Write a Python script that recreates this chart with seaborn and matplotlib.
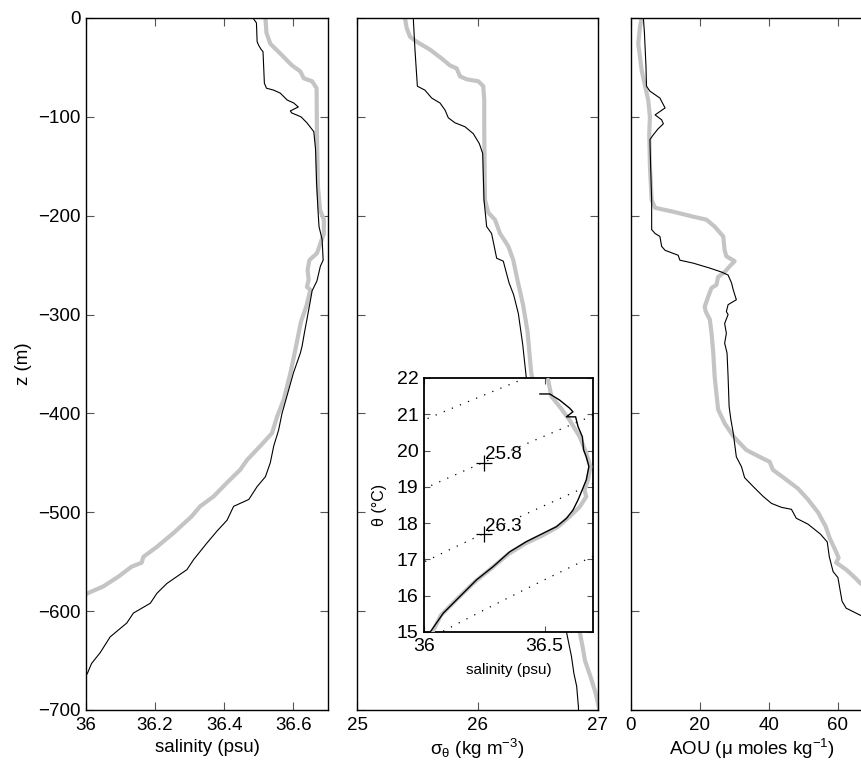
import numpy as np
import matplotlib
matplotlib.use("Agg")
import matplotlib.pyplot as plt
import seaborn as sns

# ---------------- data ----------------
# Panel 1: salinity profiles (psu) vs depth z (m)
salt_black_z = [0, -5, -24, -28, -32, -34, -66, -71, -73, -76, -83, -86, -90, -94, -96,
                -100, -106, -115, -133, -167, -194, -211, -224, -245, -251, -266, -276,
                -286, -305, -318, -332, -339, -359, -379, -400, -417, -433, -450, -464,
                -474, -487, -494, -508, -519, -531, -548, -558, -572, -582, -592, -602,
                -612, -626, -642, -653, -663, -670]
salt_black = [36.483, 36.493, 36.495, 36.500, 36.507, 36.512, 36.516, 36.522, 36.543,
              36.562, 36.582, 36.601, 36.614, 36.591, 36.595, 36.622, 36.639, 36.659,
              36.664, 36.667, 36.671, 36.674, 36.683, 36.686, 36.678, 36.668, 36.654,
              36.649, 36.639, 36.632, 36.625, 36.620, 36.600, 36.584, 36.567, 36.557,
              36.543, 36.533, 36.519, 36.495, 36.471, 36.427, 36.408, 36.379, 36.350,
              36.311, 36.292, 36.234, 36.205, 36.186, 36.137, 36.118, 36.070, 36.041,
              36.016, 36.004, 35.990]
salt_gray_z = [0, -15, -26, -36, -48, -54, -61, -64, -71, -117, -171, -194, -204, -218,
               -228, -238, -245, -255, -265, -272, -275, -292, -307, -333, -358, -386,
               -403, -420, -433, -447, -457, -470, -484, -494, -504, -521, -535, -545,
               -551, -555, -565, -575, -582, -586]
salt_gray = [36.519, 36.522, 36.533, 36.562, 36.596, 36.620, 36.630, 36.654, 36.667,
             36.668, 36.671, 36.677, 36.688, 36.688, 36.678, 36.668, 36.646, 36.641,
             36.644, 36.639, 36.649, 36.637, 36.622, 36.607, 36.592, 36.572, 36.553,
             36.538, 36.504, 36.466, 36.446, 36.408, 36.369, 36.330, 36.306, 36.253,
             36.205, 36.166, 36.161, 36.132, 36.094, 36.050, 36.004, 35.990]

# Panel 2: potential density sigma_theta (kg m-3) vs depth
sig_black_z = [0, -32, -69, -73, -81, -86, -93, -101, -106, -110, -117, -127, -137, -184,
               -211, -218, -243, -246, -268, -280, -299, -330, -364, -420, -480, -540,
               -590, -622, -646, -663, -676, -696, -705]
sig_black = [25.467, 25.481, 25.501, 25.564, 25.620, 25.689, 25.730, 25.758, 25.813,
             25.896, 25.965, 26.015, 26.043, 26.054, 26.076, 26.117, 26.159, 26.214,
             26.262, 26.300, 26.339, 26.375, 26.405, 26.46, 26.54, 26.62, 26.69,
             26.740, 26.780, 26.800, 26.823, 26.837, 26.840]
sig_gray_z = [0, -10, -19, -24, -32, -41, -48, -51, -59, -62, -64, -69, -83, -117, -184,
              -197, -204, -218, -231, -245, -267, -290, -317, -358, -420, -480, -540,
              -590, -622, -636, -650, -667, -682, -695, -705]
sig_gray = [25.398, 25.412, 25.440, 25.495, 25.606, 25.703, 25.772, 25.827, 25.855,
            25.910, 26.007, 26.048, 26.056, 26.056, 26.062, 26.090, 26.145, 26.187,
            26.256, 26.297, 26.335, 26.378, 26.415, 26.445, 26.53, 26.63, 26.73,
            26.81, 26.850, 26.872, 26.892, 26.940, 26.978, 27.003, 27.020]

# Panel 3: AOU (umol/kg) vs depth
aou_black_z = [0, -15, -49, -69, -74, -81, -91, -98, -103, -107, -112, -118, -123, -150,
               -184, -214, -218, -221, -231, -235, -240, -245, -248, -253, -257, -260,
               -268, -275, -285, -290, -297, -300, -309, -319, -329, -339, -363, -393,
               -406, -420, -444, -454, -465, -474, -484, -491, -495, -497, -506, -512,
               -522, -530, -545, -560, -566, -578, -590, -597, -604, -610]
aou_black = [3.6, 3.9, 4.35, 4.5, 5.5, 8.4, 9.9, 7.0, 8.9, 9.4, 7.9, 6.5, 5.5, 5.7, 6.0,
             6.0, 7.0, 8.4, 8.9, 9.9, 13.7, 14.2, 18.1, 22.9, 26.3, 28.2, 29.2, 29.7,
             30.6, 28.2, 27.7, 28.2, 27.2, 27.7, 27.2, 27.9, 28.2, 28.5, 29.0, 29.7,
             30.6, 32.1, 33.0, 35.5, 38.4, 40.8, 43.7, 46.6, 48.0, 51.4, 55.0, 57.0,
             57.6, 58.7, 60.1, 60.7, 61.3, 62.5, 66.5, 71.0]
aou_gray_z = [0, -9, -26, -39, -53, -69, -83, -100, -117, -150, -184, -192, -196, -201,
              -204, -211, -221, -235, -241, -246, -251, -257, -262, -270, -273, -282,
              -292, -297, -305, -319, -339, -363, -396, -410, -423, -437, -444, -449,
              -457, -467, -476, -487, -500, -514, -526, -538, -546, -551, -558, -566,
              -572, -580]
aou_gray = [3.1, 2.6, 2.1, 2.6, 3.1, 4.1, 5.0, 5.5, 5.3, 5.5, 6.0, 7.0, 12.3, 18.1, 21.9,
            24.3, 26.8, 27.2, 27.7, 30.1, 28.7, 27.2, 25.3, 24.8, 23.4, 22.4, 21.4, 21.7,
            22.9, 23.4, 23.9, 24.3, 25.3, 27.2, 29.7, 33.5, 37.4, 40.3, 41.2, 45.1, 48.5,
            51.4, 54.3, 56.5, 57.7, 59.3, 60.3, 59.6, 62.5, 65.0, 66.7, 71.0]

# Inset: theta-S diagram
ts_black_S = [36.479, 36.521, 36.562, 36.603, 36.617, 36.590, 36.628, 36.638, 36.656,
              36.661, 36.672, 36.683, 36.672, 36.658, 36.638, 36.617, 36.590, 36.548,
              36.493, 36.424, 36.355, 36.286, 36.218, 36.149, 36.080, 36.032, 36.020]
ts_black_T = [21.56, 21.56, 21.39, 21.17, 21.07, 20.93, 20.93, 20.66, 20.38, 20.02, 19.83,
              19.56, 19.19, 18.96, 18.64, 18.36, 18.13, 17.90, 17.72, 17.49, 17.21, 16.80,
              16.44, 15.98, 15.52, 15.06, 14.95]
ts_gray_S = [36.514, 36.528, 36.562, 36.603, 36.645, 36.672, 36.689, 36.679, 36.665,
             36.672, 36.645, 36.603, 36.555, 36.493, 36.420, 36.350, 36.280, 36.210,
             36.140, 36.070, 36.035, 36.020]
ts_gray_T = [21.95, 21.49, 21.21, 20.84, 20.38, 19.93, 19.56, 19.19, 18.91, 18.73, 18.45,
             18.18, 17.90, 17.67, 17.44, 17.15, 16.76, 16.38, 15.93, 15.46, 15.00, 14.90]

sigma_levels = [25.3, 25.8, 26.3, 26.8]
label_text = ["25.8", "26.3"]
label_S = [36.25, 36.25]
label_T = [19.67, 17.70]

salt_ticks = [36, 36.2, 36.4, 36.6]
sig_ticks = [25, 26, 27]
aou_ticks = [0, 20, 40, 60]
z_ticks = list(range(-700, 1, 100))


def sigma_theta(S, T):
    """UNESCO EOS-80 one-atmosphere density anomaly (kg m-3)."""
    rw = (999.842594 + 6.793952e-2 * T - 9.095290e-3 * T**2 + 1.001685e-4 * T**3
          - 1.120083e-6 * T**4 + 6.536332e-9 * T**5)
    A = 8.24493e-1 - 4.0899e-3 * T + 7.6438e-5 * T**2 - 8.2467e-7 * T**3 + 5.3875e-9 * T**4
    B = -5.72466e-3 + 1.0227e-4 * T - 1.6546e-6 * T**2
    C = 4.8314e-4
    return rw + A * S + B * S**1.5 + C * S**2 - 1000.0


# ---------------- style ----------------
sns.set_style("ticks")
plt.rcParams["font.family"] = ["Liberation Sans", "DejaVu Sans"]
plt.rcParams["mathtext.fontset"] = "custom"
plt.rcParams["mathtext.rm"] = "Liberation Sans"
plt.rcParams["mathtext.it"] = "Liberation Sans:italic"
plt.rcParams["mathtext.bf"] = "Liberation Sans:bold"
plt.rcParams["axes.linewidth"] = 1.0
plt.rcParams["axes.edgecolor"] = "black"
plt.rcParams["text.color"] = "black"
plt.rcParams["axes.labelcolor"] = "black"
plt.rcParams["xtick.labelcolor"] = "black"
plt.rcParams["ytick.labelcolor"] = "black"

FS = 13.5
GRAY = "#c4c4c4"
W, H = 861, 764

fig = plt.figure(figsize=(W / 100, H / 100), dpi=100)


def ax_at(x0, y0, x1, y1):
    return fig.add_axes([x0 / W, 1 - y1 / H, (x1 - x0) / W, (y1 - y0) / H])


ax1 = ax_at(86, 18, 328, 710)
ax2 = ax_at(357, 18, 598, 710)
ax3 = ax_at(631, 18, 872, 710)


def profile(ax, x, z, color, lw, zo):
    sns.lineplot(x=x, y=z, sort=False, estimator=None, color=color, linewidth=lw,
                 ax=ax, zorder=zo, legend=False)


profile(ax1, salt_gray, salt_gray_z, GRAY, 3.0, 2)
profile(ax1, salt_black, salt_black_z, "black", 0.8, 3)
profile(ax2, sig_gray, sig_gray_z, GRAY, 3.0, 2)
profile(ax2, sig_black, sig_black_z, "black", 0.8, 3)
profile(ax3, aou_gray, aou_gray_z, GRAY, 3.0, 2)
profile(ax3, aou_black, aou_black_z, "black", 0.8, 3)

for ax in (ax1, ax2, ax3):
    ax.set_ylim(-700, 0)
    ax.set_yticks(z_ticks)
    ax.tick_params(direction="in", length=6, width=0.8, color="#555555",
                   labelcolor="black", top=True, right=True, labelsize=FS, pad=5)
    ax.set_xlabel("")
    ax.set_ylabel("")
    for s in ax.spines.values():
        s.set_linewidth(1.0)
        s.set_color("black")

ax1.set_xlim(36, 36.7)
ax1.set_xticks(salt_ticks)
ax1.set_xticklabels(["36", "36.2", "36.4", "36.6"])
ax1.set_ylabel("z (m)", fontsize=FS, labelpad=4, color="black")
ax1.set_xlabel("salinity (psu)", fontsize=FS, labelpad=4, color="black")
ax1.tick_params(axis="y", pad=4)

ax2.set_xlim(25, 27)
ax2.set_xticks(sig_ticks)
ax2.set_yticklabels([])
ax2.set_xlabel(r"$\mathrm{\sigma_\theta}$ (kg m$^{-3}$)", fontsize=FS, labelpad=2,
               color="black")

ax3.set_xlim(0, 70)
ax3.set_xticks(aou_ticks)
ax3.set_yticklabels([])
ax3.set_xlabel(r"AOU ($\mathrm{\mu}$ moles kg$^{-1}$)", fontsize=FS, labelpad=2,
               color="black")

# ---------------- inset ----------------
axi = ax_at(424, 378, 593, 632)
axi.set_facecolor("white")
Sg = np.linspace(36.0, 36.7, 141)
Tg = np.linspace(15.0, 22.0, 141)
SS, TT = np.meshgrid(Sg, Tg)
cs = axi.contour(SS, TT, sigma_theta(SS, TT), levels=sigma_levels, colors="black",
                 linewidths=0.9)
cs.set_linestyle((0, (1, 6)))

sns.lineplot(x=ts_gray_S, y=ts_gray_T, sort=False, estimator=None, color=GRAY,
             linewidth=3.0, ax=axi, zorder=3, legend=False)
sns.lineplot(x=ts_black_S, y=ts_black_T, sort=False, estimator=None, color="black",
             linewidth=1.0, ax=axi, zorder=4, legend=False)
axi.plot(label_S, label_T, linestyle="none", marker="+", color="black", ms=11, mew=0.9,
         zorder=5)
for s_, t_, txt in zip(label_S, label_T, label_text):
    axi.text(s_ + 0.002, t_ + 0.09, txt, fontsize=FS, ha="left", va="baseline",
             color="black", zorder=6)

axi.set_xlim(36, 36.7)
axi.set_ylim(15, 22)
axi.set_xticks([36, 36.5])
axi.set_xticklabels(["36", "36.5"])
axi.set_yticks(range(15, 23))
axi.tick_params(direction="in", length=4, width=0.8, color="#555555",
                labelcolor="black", top=True, right=True, labelsize=14, pad=4)
for s in axi.spines.values():
    s.set_linewidth(1.3)
    s.set_color("black")
axi.set_xlabel("salinity (psu)", fontsize=11, labelpad=6, color="black")
axi.set_ylabel("\u03b8 (\u00b0C)", fontsize=11.5, labelpad=7, color="black")

fig.savefig("out.png", dpi=100)
